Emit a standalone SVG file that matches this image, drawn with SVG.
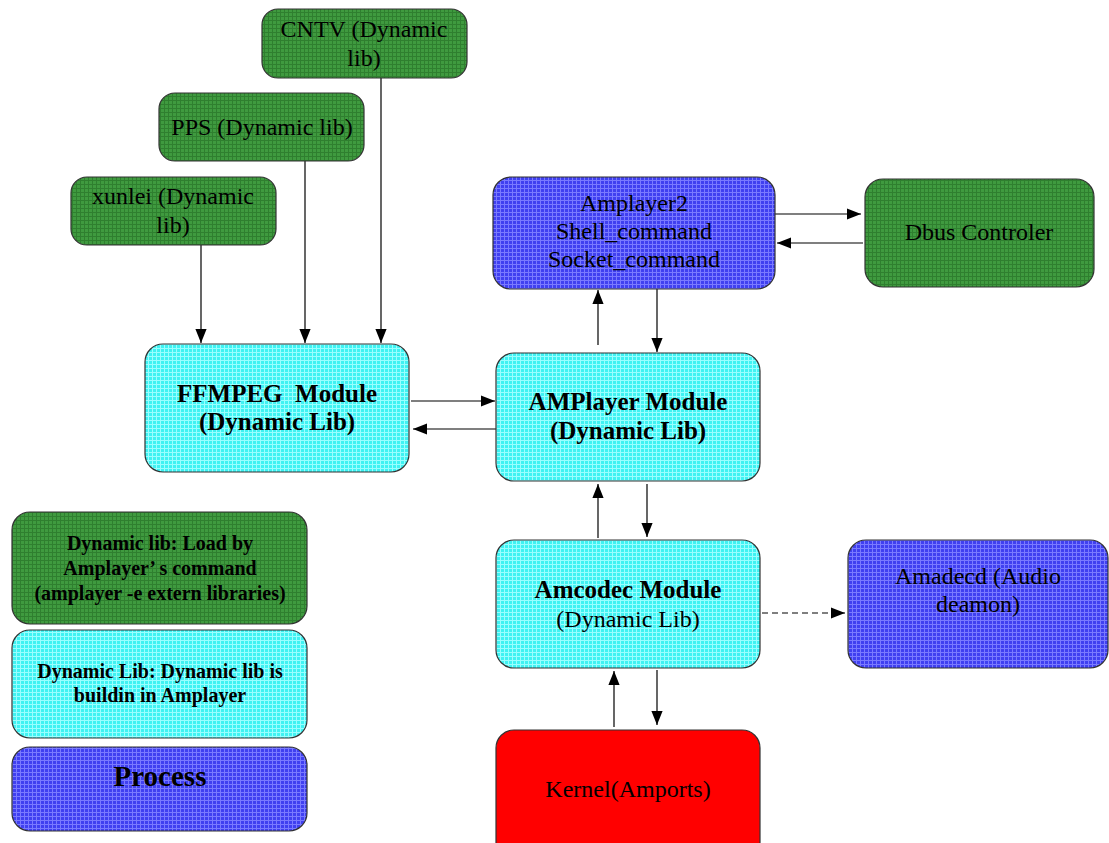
<svg xmlns="http://www.w3.org/2000/svg" width="1109" height="843" viewBox="0 0 1109 843">
<defs>
<pattern id="pg" width="4" height="4" patternUnits="userSpaceOnUse"><rect width="4" height="4" fill="#3f9a3f"/><path d="M0 .5H4M.5 0V4" stroke="#2f7f2f" stroke-width="1"/></pattern>
<pattern id="pc" width="4" height="4" patternUnits="userSpaceOnUse"><rect width="4" height="4" fill="#3ff2f2"/><path d="M0 .5H4M.5 0V4" stroke="#9ff" stroke-width="1"/></pattern>
<pattern id="pb" width="4" height="4" patternUnits="userSpaceOnUse"><rect width="4" height="4" fill="#4040f0"/><path d="M0 .5H4M.5 0V4" stroke="#7a7aff" stroke-width="1"/></pattern>
<marker id="ah" viewBox="0 0 10 10" refX="10" refY="5" markerWidth="14" markerHeight="14" markerUnits="userSpaceOnUse" orient="auto"><path d="M0 1L10 5L0 9Z" fill="#000"/></marker>
</defs>
<style>
.n{stroke:#333;stroke-width:1.2}
.g{fill:url(#pg)}.c{fill:url(#pc)}.b{fill:url(#pb)}.r{fill:#f00}
text{font-family:"Liberation Serif","Times New Roman",serif;font-size:24px;text-anchor:middle;fill:#000}
.bd{font-weight:bold;font-size:25px}
.lg{font-size:20px;font-weight:bold}
.e{stroke:#000;stroke-width:1.2;fill:none;marker-end:url(#ah)}
.d{stroke-dasharray:6 4}
</style>
<rect width="1109" height="843" fill="#fff"/>
<g id="connectors">
<path class="e" d="M201 245V343"/>
<path class="e" d="M305 161V343"/>
<path class="e" d="M381 78V343"/>
<path class="e" d="M411 401H495"/>
<path class="e" d="M497 429H413"/>
<path class="e" d="M598 345V290"/>
<path class="e" d="M657 289V352"/>
<path class="e" d="M775 214H861"/>
<path class="e" d="M863 243H777"/>
<path class="e" d="M598 538V484"/>
<path class="e" d="M647 484V537"/>
<path class="e" d="M614 727V671"/>
<path class="e" d="M657 670V725"/>
<path class="e d" d="M762 613H845"/>
</g>
<g id="cntv"><rect class="n g" x="262" y="9" width="205" height="69" rx="16"/><text x="364" y="37">CNTV (Dynamic</text><text x="364" y="66">lib)</text></g>
<g id="pps"><rect class="n g" x="159" y="93" width="205" height="68" rx="16"/><text x="262" y="135">PPS (Dynamic lib)</text></g>
<g id="xunlei"><rect class="n g" x="71" y="177" width="205" height="68" rx="16"/><text x="173" y="204">xunlei (Dynamic</text><text x="173" y="233">lib)</text></g>
<g id="ffmpeg"><rect class="n c" x="145" y="344" width="264" height="128" rx="18"/><text class="bd" x="277" y="402" xml:space="preserve">FFMPEG  Module</text><text class="bd" x="277" y="430">(Dynamic Lib)</text></g>
<g id="amplayer"><rect class="n c" x="496" y="353" width="264" height="128" rx="18"/><text class="bd" x="628" y="410">AMPlayer Module</text><text class="bd" x="628" y="439">(Dynamic Lib)</text></g>
<g id="amplayer2"><rect class="n b" x="493" y="177" width="282" height="112" rx="18"/><text x="634" y="211">Amplayer2</text><text x="634" y="239">Shell_command</text><text x="634" y="267">Socket_command</text></g>
<g id="dbus"><rect class="n g" x="865" y="179" width="229" height="108" rx="18"/><text x="979" y="240">Dbus Controler</text></g>
<g id="amcodec"><rect class="n c" x="496" y="540" width="264" height="128" rx="18"/><text class="bd" x="628" y="598">Amcodec Module</text><text x="628" y="627">(Dynamic Lib)</text></g>
<g id="amadecd"><rect class="n b" x="848" y="540" width="260" height="128" rx="18"/><text x="978" y="584">Amadecd (Audio</text><text x="978" y="612">deamon)</text></g>
<g id="kernel"><rect class="n r" x="496" y="730" width="264" height="130" rx="18"/><text x="628" y="797">Kernel(Amports)</text></g>
<g id="legend-dynamic"><rect class="n g" x="12" y="512" width="295" height="112" rx="18"/><text class="lg" x="160" y="550">Dynamic lib: Load by</text><text class="lg" x="160" y="575">Amplayer’ s command</text><text class="lg" x="160" y="600">(amplayer -e extern libraries)</text></g>
<g id="legend-buildin"><rect class="n c" x="12" y="630" width="295" height="108" rx="18"/><text class="lg" x="160" y="678">Dynamic Lib: Dynamic lib is</text><text class="lg" x="160" y="702">buildin in Amplayer</text></g>
<g id="legend-process"><rect class="n b" x="12" y="747" width="295" height="84" rx="18"/><text class="bd" x="160" y="786" style="font-size:29px">Process</text></g>
</svg>
